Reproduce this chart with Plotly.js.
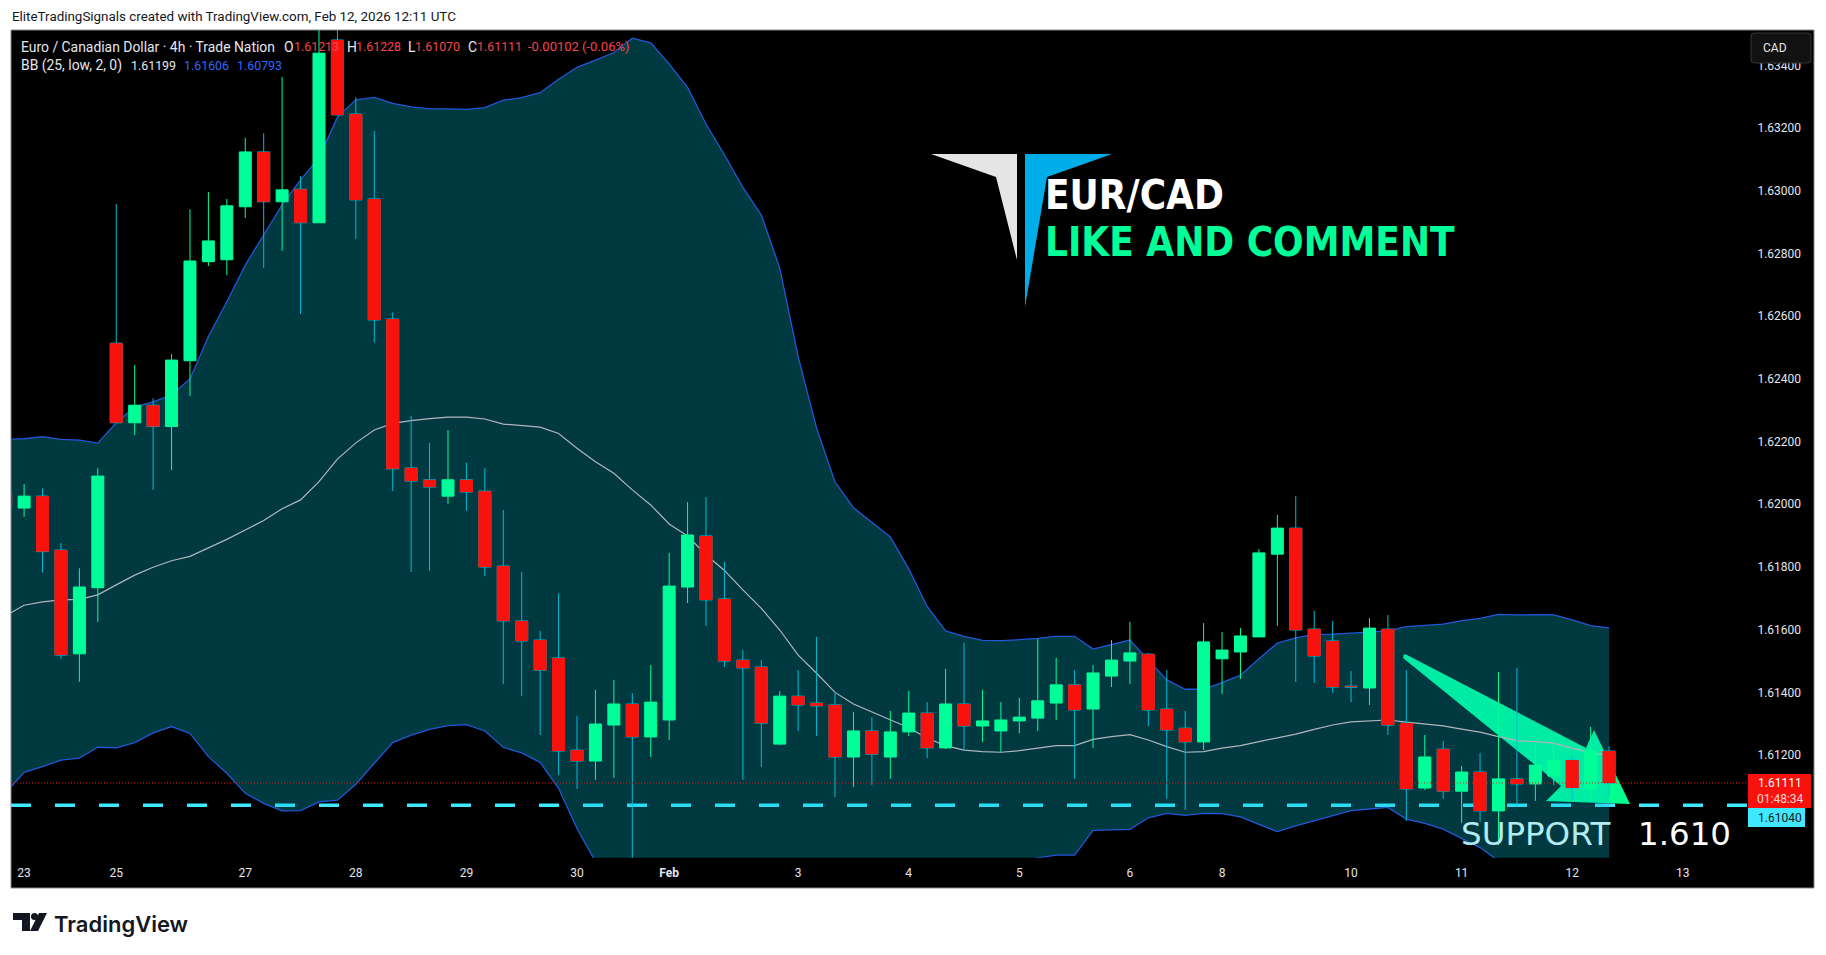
<!DOCTYPE html>
<html>
<head>
<meta charset="utf-8">
<script src="https://cdn.plot.ly/plotly-3.0.1.min.js"></script>
<style>
  html, body { margin: 0; padding: 0; background: #fff; }
  #chart { width: 1826px; height: 955px; }
</style>
</head>
<body>
<div id="chart"></div>
<script>
// 4h candles, first one is cut off by the left edge of the pane
const opens = [1.62036,1.61988,1.62026,1.61854,1.61523,1.61734,
  1.62514,1.6226,1.62316,1.62248,1.62458,1.62774,1.6278,1.62949,1.63124,1.62965,
  1.63005,1.62898,1.63481,1.63245,1.62974,1.62591,1.62116,1.62078,1.62026,1.62078,
  1.62042,1.61803,1.61628,1.61567,1.6151,1.61216,1.61181,1.61296,1.61363,1.61258,
  1.61312,1.61736,1.61899,1.61698,1.61503,1.61481,1.61235,1.61388,1.61366,1.6136,
  1.61194,1.61277,1.61194,1.61274,1.61334,1.61223,1.61363,1.61293,1.61277,1.61309,
  1.61318,1.61366,1.61424,1.61347,1.61452,1.615,1.61522,1.61347,1.61286,1.61242,
  1.61507,1.61529,1.61577,1.61841,1.61924,1.61602,1.61564,1.6142,1.61414,1.61602,
  1.61302,1.61095,1.61219,1.61085,1.61146,1.61022,1.61124,1.61108,1.61133,1.61184,1.61092,1.61213];
const highs = [1.62058,1.62065,1.62051,1.61876,1.61796,1.62115,
  1.62958,1.62444,1.62338,1.62479,1.62941,1.62996,1.62974,1.63169,1.63184,1.63363,
  1.63047,1.63545,1.63551,1.63298,1.63191,1.62612,1.62282,1.62196,1.62237,1.62133,
  1.62116,1.61982,1.61784,1.61596,1.61716,1.61325,1.61408,1.6144,1.61398,1.61487,
  1.61845,1.62007,1.62023,1.61816,1.61535,1.61503,1.61404,1.61471,1.61577,1.61401,
  1.61337,1.61321,1.61341,1.61404,1.61369,1.61475,1.61558,1.61408,1.61369,1.61382,
  1.6157,1.6151,1.61471,1.61487,1.61567,1.61625,1.61526,1.61471,1.61341,1.61621,
  1.61593,1.61605,1.61857,1.61966,1.62026,1.6166,1.61628,1.61468,1.61637,1.61647,
  1.61471,1.61264,1.61245,1.61165,1.61207,1.61465,1.61478,1.61248,1.61239,1.61197,1.6129,1.61228];
const lows = [1.61966,1.6196,1.61782,1.61507,1.61434,1.61625,
  1.6226,1.62221,1.62046,1.62109,1.62345,1.6276,1.62731,1.62913,1.62754,1.62809,
  1.62607,1.62898,1.63242,1.62846,1.62516,1.62042,1.61784,1.61788,1.62001,1.61979,
  1.61771,1.61427,1.61388,1.61264,1.61136,1.61092,1.61121,1.61127,1.60849,1.61194,
  1.61248,1.61685,1.61612,1.61481,1.61121,1.61162,1.61232,1.61277,1.61261,1.61066,
  1.61098,1.61105,1.61124,1.61261,1.61191,1.61219,1.61216,1.61242,1.6121,1.6127,
  1.61277,1.61312,1.61124,1.61223,1.61417,1.61427,1.61293,1.6106,1.61025,1.61216,
  1.61395,1.61443,1.61577,1.61612,1.61433,1.6143,1.61398,1.61369,1.6136,1.61264,
  1.6099,1.61089,1.6106,1.60983,1.60987,1.60913,1.61041,1.61054,1.61105,1.61057,1.61057,1.6107];
const closes = [1.61991,1.62026,1.61849,1.61519,1.61736,1.6209,
  1.6226,1.62316,1.62248,1.6246,1.62776,1.6284,1.62952,1.63124,1.62965,1.63003,
  1.62898,1.63439,1.63242,1.62971,1.62588,1.62113,1.62074,1.62055,1.62078,1.62039,
  1.618,1.61628,1.61564,1.61471,1.61213,1.61181,1.61299,1.61363,1.61258,1.61369,
  1.61739,1.61902,1.61695,1.615,1.61478,1.61302,1.61388,1.6136,1.61357,1.61194,
  1.61277,1.61203,1.61274,1.61334,1.61223,1.61363,1.61293,1.61309,1.61312,1.61321,
  1.61373,1.61424,1.61344,1.61462,1.61503,1.61526,1.61344,1.6128,1.61242,1.61561,
  1.61535,1.6158,1.61845,1.61924,1.61599,1.61516,1.61417,1.61417,1.61605,1.61296,
  1.61092,1.61194,1.61085,1.61146,1.61022,1.61124,1.61108,1.61168,1.61184,1.61095,1.61213,1.61111];

// Bollinger bands (25, low, 2, 0). Lower band runs under the pane for a while, those are guesses
const bbUpper = [1.62207,1.62209,1.62216,1.62207,1.62205,1.62195,
  1.6226,1.62311,1.62327,1.62349,1.624,1.62535,1.62646,1.62763,1.62859,1.62955,
  1.63035,1.63105,1.63235,1.6329,1.63298,1.63279,1.63268,1.63261,1.63261,1.6326,
  1.63265,1.63289,1.63297,1.63313,1.63356,1.63394,1.63417,1.63441,1.63487,1.63472,
  1.63405,1.6333,1.63213,1.63115,1.63011,1.62923,1.62754,1.62471,1.62243,1.62071,
  1.61989,1.61944,1.61896,1.61794,1.61674,1.61596,1.61579,1.61566,1.61565,1.61568,
  1.61572,1.61579,1.61579,1.61538,1.61553,1.61567,1.61503,1.6144,1.6141,1.6141,
  1.61431,1.61455,1.61507,1.61557,1.61574,1.61585,1.61586,1.61588,1.61592,1.61596,
  1.6161,1.61614,1.61618,1.61629,1.61636,1.61649,1.61647,1.61648,1.61647,1.61631,1.61613,1.61606];
const bbBasis = [1.61645,1.61678,1.61689,1.61695,1.61697,1.61711,
  1.61743,1.61774,1.61799,1.6182,1.61834,1.6186,1.61888,1.61918,1.61948,1.61986,
  1.62014,1.62072,1.62144,1.62196,1.62237,1.62258,1.62267,1.62273,1.62278,1.62278,
  1.62272,1.62256,1.62252,1.62246,1.62226,1.62179,1.62136,1.62099,1.62046,1.61998,
  1.61937,1.61899,1.61839,1.61789,1.61727,1.61668,1.61599,1.61519,1.61461,1.614,
  1.61363,1.61338,1.61314,1.61287,1.61254,1.6123,1.61216,1.61211,1.61209,1.61214,
  1.61222,1.6123,1.6123,1.6125,1.61259,1.61265,1.61248,1.61227,1.61209,1.61211,
  1.61222,1.6123,1.61243,1.61255,1.61267,1.61282,1.61296,1.61306,1.6131,1.61312,
  1.61305,1.61299,1.61293,1.61283,1.61273,1.61259,1.61246,1.61243,1.61238,1.61222,1.61208,1.61199];
const bbLower = [1.6108,1.61145,1.61163,1.61184,1.6119,1.61225,
  1.61223,1.6124,1.61271,1.61291,1.61269,1.61195,1.61142,1.61078,1.61046,1.61022,
  1.61023,1.61051,1.61056,1.61107,1.61174,1.6124,1.61264,1.61282,1.61294,1.61297,
  1.61277,1.61225,1.61207,1.61177,1.61094,1.60966,1.6086,1.60757,1.60605,1.60524,
  1.60473,1.60467,1.60467,1.6046,1.60441,1.60416,1.60444,1.60569,1.6068,1.60731,
  1.60738,1.60735,1.60735,1.60782,1.60833,1.60865,1.60853,1.60856,1.60853,1.60859,
  1.60872,1.60881,1.60881,1.6096,1.60962,1.60963,1.61,1.61014,1.61008,1.61014,
  1.61013,1.61003,1.60979,1.60956,1.60974,1.60991,1.61007,1.61023,1.61028,1.61033,
  1.60996,1.60982,1.60964,1.60935,1.60905,1.60863,1.60846,1.60838,1.60828,1.60812,1.60802,1.60793];

const priceTicks = [1.612,1.614,1.616,1.618,1.62,1.622,1.624,1.626,1.628,1.63,1.632,1.634];
const dateTickBars = [0,5,12,18,24,30,35,42,48,54,60,65,72,78,84,90];
const dateTickLabels = ['23','25','27','28','29','30','<b>Feb</b>','3','4','5','6','8','10','11','12','13'];

const lastPrice = 1.61111;
const supportPrice = 1.6104;

const barIndex = opens.map((v, i) => i - 1);

// candlestick outlines can't differ from the wick, so red bodies go on top as bars
const downBars = barIndex.filter((v, i) => closes[i] < opens[i]);
const downBase = opens.filter((v, i) => closes[i] < opens[i]);
const downClose = closes.filter((v, i) => closes[i] < opens[i]);

const GREEN = '#00ff99';
const RED = '#f7120d';
const WICK = '#00bcd4';
const BAND = '#2158d8';

const W = 1826, H = 955;
const px = x => x / W;
const py = y => 1 - y / H;

const data = [
  {x: barIndex, y: bbLower, type: 'scatter', mode: 'lines', line: {color: BAND, width: 1.3}, hoverinfo: 'skip', zorder: 0},
  {x: barIndex, y: bbUpper, type: 'scatter', mode: 'lines', line: {color: BAND, width: 1.3}, hoverinfo: 'skip',
   fill: 'tonexty', fillcolor: 'rgba(0,188,212,0.3)', zorder: 0},
  {x: barIndex, y: bbBasis, type: 'scatter', mode: 'lines', line: {color: '#b2b5be', width: 1.2}, hoverinfo: 'skip', zorder: 0},
  {x: barIndex, open: opens, high: highs, low: lows, close: closes, type: 'candlestick', zorder: 1,
   increasing: {line: {color: GREEN, width: 1}, fillcolor: GREEN},
   decreasing: {line: {color: WICK, width: 1}, fillcolor: RED}},
  {x: downBars, base: downBase, y: downClose.map((c, i) => c - downBase[i]), type: 'bar', width: 0.71,
   marker: {color: RED, line: {width: 0}}, hoverinfo: 'skip', zorder: 2}
];

function label(text, x, y, size, color, family, weight) {
  return {text: text, x: px(x), y: py(y), xref: 'paper', yref: 'paper', showarrow: false,
    xanchor: 'left', yanchor: 'middle', borderpad: 0,
    font: {family: family || 'Roboto', size: size, color: color, weight: weight || 400}};
}

function poly(points, fill, layer) {
  const path = 'M' + points.map(p => px(p[0]) + ',' + py(p[1])).join('L') + 'Z';
  return {type: 'path', path: path, xref: 'paper', yref: 'paper', fillcolor: fill, line: {width: 0}, layer: layer || 'above'};
}

function box(x0, y0, x1, y1, fill) {
  return {type: 'rect', xref: 'paper', yref: 'paper', x0: px(x0), x1: px(x1), y0: py(y0), y1: py(y1),
    fillcolor: fill, line: {width: 0}, layer: 'above'};
}

const TXT = '#e4e6ec';
const VALUE_RED = '#f5454f';
const VALUE_BLUE = '#2f68ff';
const INK = '#131722';
const BIG_FONT = 'DejaVu Sans Condensed';

const annotations = [
  label('EliteTradingSignals created with TradingView.com, Feb 12, 2026 12:11 UTC', 11, 16.5, 13.4, INK),
  label('Euro / Canadian Dollar · 4h · Trade Nation', 20, 46.5, 13.9, TXT),
  label('O', 283, 46.5, 13.9, TXT), label('1.61213', 293, 46.5, 12.4, VALUE_RED),
  label('H', 346, 46.5, 13.9, TXT), label('1.61228', 355, 46.5, 12.4, VALUE_RED),
  label('L', 407, 46.5, 13.9, TXT), label('1.61070', 414, 46.5, 12.4, VALUE_RED),
  label('C', 467, 46.5, 13.9, TXT), label('1.61111', 476, 46.5, 12.4, VALUE_RED),
  label('-0.00102 (-0.06%)', 527, 46.5, 13, VALUE_RED),
  label('BB (25, low, 2, 0)', 20, 65.5, 13.9, TXT),
  label('1.61199', 130, 65.5, 12.4, TXT),
  label('1.61606', 183, 65.5, 12.4, VALUE_BLUE),
  label('1.60793', 236, 65.5, 12.4, VALUE_BLUE),
  label('CAD', 1762, 48, 12, TXT),
  label('EUR/CAD', 1044, 195, 40, '#ffffff', BIG_FONT, 700),
  label('LIKE AND COMMENT', 1044, 242, 40, GREEN, BIG_FONT, 700),
  label('SUPPORT', 1460, 834, 32.5, '#b2ebf2', 'DejaVu Sans'),
  label('1.610', 1637, 834, 32.5, '#ffffff', 'DejaVu Sans'),
  label('1.61111', 1757, 783, 12, '#ffffff'),
  label('01:48:34', 1756, 798.5, 12, '#ffd6d3'),
  label('1.61040', 1757, 817.5, 12, INK),
  label('TradingView', 53, 924, 22, INK, 'Inter', 600)
];

const shapes = [
  // chart frame
  {type: 'rect', xref: 'paper', yref: 'paper', x0: px(11), x1: px(1814), y0: py(30), y1: py(888),
   fillcolor: '#000', line: {color: '#888', width: 1}, layer: 'below'},
  // hand drawn arrow, sits under the band fill
  poly([[1404, 654], [1407, 655], [1586, 748], [1594, 730], [1630, 804], [1546, 801], [1561, 786], [1403, 658]], '#00ff90', 'below'),
  // support line, also under the band
  {type: 'line', xref: 'paper', yref: 'y', x0: px(11), x1: px(1747), y0: supportPrice, y1: supportPrice,
   line: {color: '#40e8ff', width: 3.5, dash: '20px,24px'}, layer: 'below'},
  // last price
  {type: 'line', xref: 'paper', yref: 'y', x0: px(11), x1: px(1747), y0: lastPrice, y1: lastPrice,
   line: {color: '#f7120d', width: 1, dash: '1px,2px'}, layer: 'above'},
  // logo
  poly([[931, 154], [1017, 154], [1017, 260], [996, 177]], '#e5e5e5'),
  poly([[1025, 154], [1112, 154], [1047, 177], [1025, 307]], '#00ade9'),
  // price tags
  box(1748, 774, 1811, 808, RED),
  box(1748, 808, 1805, 827, '#40e8ff'),
  // currency button
  {type: 'path', xref: 'paper', yref: 'paper', fillcolor: '#121212', line: {color: '#333', width: 1}, layer: 'above',
   path: 'M' + px(1754) + ',' + py(33) + 'L' + px(1808) + ',' + py(33) + 'Q' + px(1811) + ',' + py(33) + ' ' + px(1811) + ',' + py(36)
     + 'L' + px(1811) + ',' + py(60) + 'Q' + px(1811) + ',' + py(63) + ' ' + px(1808) + ',' + py(63)
     + 'L' + px(1754) + ',' + py(63) + 'Q' + px(1751) + ',' + py(63) + ' ' + px(1751) + ',' + py(60)
     + 'L' + px(1751) + ',' + py(36) + 'Q' + px(1751) + ',' + py(33) + ' ' + px(1754) + ',' + py(33) + 'Z'},
  // TradingView mark
  poly([[13, 913], [30, 913], [30, 931], [22, 931], [22, 920], [13, 920]], INK),
  {type: 'circle', xref: 'paper', yref: 'paper', x0: px(31), x1: px(38), y0: py(913), y1: py(920), fillcolor: INK, line: {width: 0}, layer: 'above'},
  poly([[39, 913], [47, 913], [38, 931], [30, 931]], INK)
];

const layout = {
  width: W,
  height: H,
  margin: {l: 0, r: 0, t: 0, b: 0},
  paper_bgcolor: '#ffffff',
  plot_bgcolor: '#000000',
  showlegend: false,
  hovermode: false,
  barmode: 'overlay',
  boxgap: 0.35,
  boxgroupgap: 0,
  boxmode: 'overlay',
  xaxis: {
    domain: [px(11), px(1747)],
    range: [-0.711, 93.484],
    rangeslider: {visible: false},
    tickvals: dateTickBars,
    ticktext: dateTickLabels,
    tickfont: {family: 'Roboto', size: 12, color: TXT},
    ticks: 'outside', ticklen: 4, tickcolor: '#000',
    showgrid: false, zeroline: false, showline: false, automargin: false
  },
  yaxis: {
    domain: [1 - 857.7 / H, 1 - 30 / H],
    range: [1.608727, 1.635129],
    side: 'right',
    tickvals: priceTicks,
    tickformat: '.5f',
    tickfont: {family: 'Roboto', size: 12, color: TXT},
    ticks: 'outside', ticklen: 7, tickcolor: '#000',
    showgrid: false, zeroline: false, showline: false, automargin: false
  },
  shapes: shapes,
  annotations: annotations
};

Plotly.newPlot('chart', data, layout, {displayModeBar: false, staticPlot: true});
</script>
</body>
</html>
